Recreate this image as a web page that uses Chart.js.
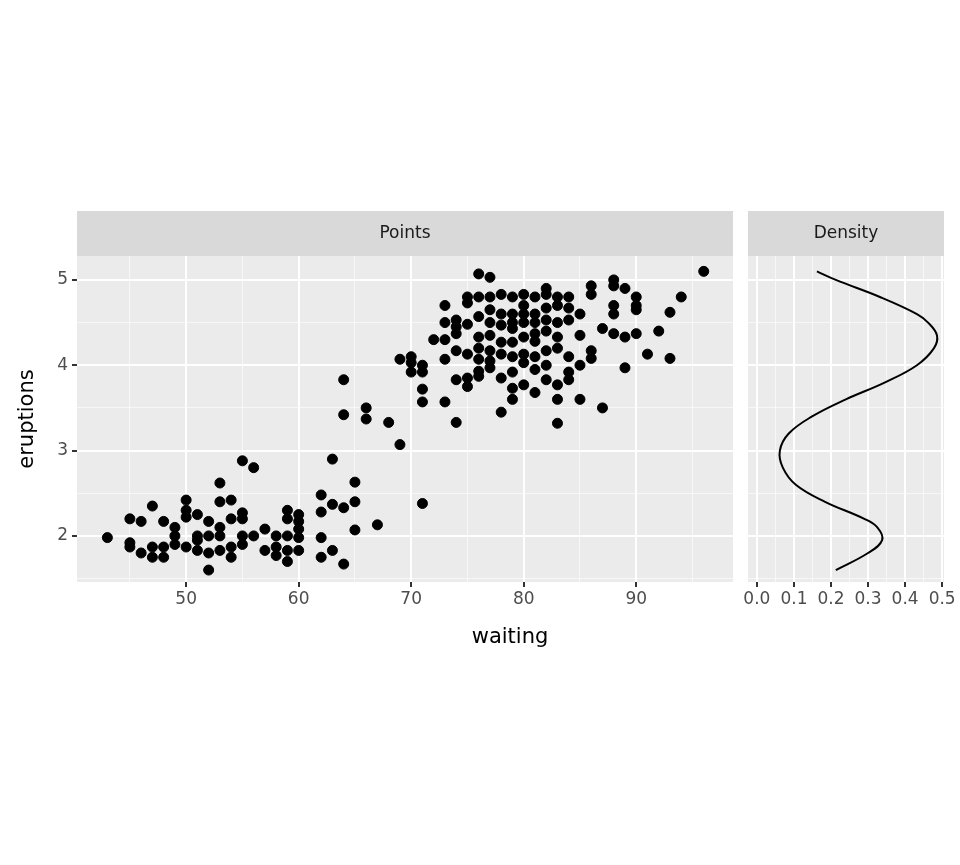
<!DOCTYPE html>
<html>
<head>
<meta charset="utf-8">
<script src="https://cdn.jsdelivr.net/npm/chart.js@4"></script>
<style>
  body { margin: 0; background: #fff; }
  #wrap { position: relative; width: 960px; height: 865px; }
  canvas { position: absolute; left: 0; top: 0; }
</style>
</head>
<body>
<div id="wrap">
  <canvas id="points" width="960" height="865"></canvas>
  <canvas id="density" width="960" height="865"></canvas>
</div>
<script>
// faithful: waiting, eruptions
const waiting = [43,45,45,45,46,46,47,47,47,48,48,48,49,49,49,50,50,50,50,51,51,51,51,52,52,52,52,53,53,53,53,53,54,54,54,54,55,55,55,55,55,56,56,57,57,58,58,58,59,59,59,59,59,60,60,60,60,60,62,62,62,62,63,63,63,64,64,64,64,65,65,65,66,66,67,68,69,69,70,70,70,71,71,71,71,71,72,
  73,73,73,73,73,74,74,74,74,74,74,75,75,75,75,75,75,76,76,76,76,76,76,76,76,77,77,77,77,77,77,77,77,78,78,78,78,78,78,78,79,79,79,79,79,79,79,79,79,80,80,80,80,80,80,80,80,81,81,81,81,81,81,81,81,82,82,82,82,82,82,82,82,83,83,83,83,83,83,83,83,84,84,84,84,84,84,85,85,85,85,86,86,86,86,87,87,88,88,88,88,88,89,89,89,90,90,90,90,91,92,93,93,94,96];
const eruptions = [1.98,2.2,1.92,1.87,2.17,1.8,2.35,1.75,1.87,2.17,1.75,1.87,2.1,2.0,1.9,2.42,2.3,2.22,1.87,2.25,2.0,1.95,1.83,2.17,2.0,1.8,1.6,2.62,2.4,2.1,2.0,1.83,2.42,2.2,1.87,1.75,2.88,2.27,2.2,2.0,1.9,2.8,2.0,2.08,1.83,2.0,1.87,1.77,2.3,2.2,2.0,1.83,1.7,2.25,2.17,2.08,1.98,1.83,2.48,2.28,1.98,1.75,2.9,2.37,1.83,3.83,3.42,2.33,1.67,2.63,2.4,2.07,3.5,3.37,2.13,3.33,4.07,3.07,4.1,4.03,3.92,4.0,3.92,3.72,3.57,2.38,4.3,
  4.7,4.5,4.3,4.07,3.57,4.53,4.45,4.37,4.17,3.83,3.33,4.8,4.73,4.48,4.13,3.85,3.75,5.07,4.8,4.57,4.33,4.2,4.07,3.93,3.87,5.03,4.8,4.65,4.5,4.35,4.17,4.05,3.97,4.83,4.6,4.47,4.27,4.13,3.85,3.45,4.8,4.6,4.5,4.43,4.27,4.1,3.92,3.73,3.6,4.83,4.7,4.6,4.5,4.33,4.13,4.03,3.77,4.8,4.6,4.5,4.37,4.28,4.1,3.95,3.68,4.9,4.83,4.67,4.53,4.4,4.17,4.0,3.83,4.8,4.7,4.5,4.33,4.2,3.77,3.6,3.32,4.8,4.67,4.53,4.1,3.92,3.83,4.6,4.35,4.0,3.6,4.93,4.83,4.17,4.08,4.43,3.5,5.0,4.93,4.7,4.6,4.37,4.9,4.33,3.97,4.8,4.7,4.65,4.37,4.13,4.4,4.62,4.08,4.8,5.1];

// density curve of eruptions
const densY = [1.6,1.8,1.95,2.1,2.2,2.4,2.6,2.8,3.0,3.2,3.4,3.6,3.8,4.0,4.2,4.35,4.5,4.6,4.8,5.0,5.1];
const densX = [0.213,0.300,0.338,0.325,0.290,0.184,0.105,0.070,0.062,0.086,0.149,0.240,0.346,0.432,0.478,0.486,0.462,0.432,0.332,0.213,0.162];

const tickGray = '#4d4d4d';
const font = { family: 'DejaVu Sans', size: 17 };

const panelBg = {
  id: 'panelBg',
  beforeDraw(chart, args, opts) {
    const { ctx, chartArea: a } = chart;
    ctx.save();
    ctx.fillStyle = '#ebebeb';
    ctx.fillRect(a.left, a.top, a.right - a.left, a.bottom - a.top);
    ctx.fillStyle = '#d9d9d9';
    ctx.fillRect(a.left, a.top - 45, a.right - a.left, 45);
    ctx.fillStyle = '#1a1a1a';
    ctx.font = '17px "DejaVu Sans"';
    ctx.textAlign = 'center';
    ctx.textBaseline = 'middle';
    ctx.fillText(opts.label, (a.left + a.right) / 2, a.top - 22);
    ctx.restore();
  },
  afterDraw(chart, args, opts) {
    if (!opts.xTitle) return;
    const { ctx, chartArea: a } = chart;
    ctx.save();
    ctx.fillStyle = '#000';
    ctx.font = '21px "DejaVu Sans"';
    ctx.textAlign = 'center';
    ctx.textBaseline = 'middle';
    // x title spans both panels (77..944)
    ctx.fillText(opts.xTitle, 510, 638);
    ctx.translate(28, (a.top + a.bottom) / 2);
    ctx.rotate(-Math.PI / 2);
    ctx.fillText(opts.yTitle, 0, 0);
    ctx.restore();
  }
};

function gridOpts(isMajor) {
  return {
    color: c => isMajor(c.tick.value) ? '#ffffff' : 'rgba(255,255,255,0.6)',
    lineWidth: c => isMajor(c.tick.value) ? 2 : 1,
    tickColor: c => isMajor(c.tick.value) ? '#333333' : 'rgba(0,0,0,0)',
    tickLength: 5,
    drawOnChartArea: true
  };
}
const near = (v, s) => Math.abs(v / s - Math.round(v / s)) < 1e-6;

new Chart(document.getElementById('points'), {
  type: 'scatter',
  data: {
    datasets: [{
      data: waiting.map((w, i) => ({ x: w, y: eruptions[i] })),
      backgroundColor: '#000',
      borderColor: '#000',
      pointRadius: 5
    }]
  },
  options: {
    responsive: false,
    animation: false,
    layout: { padding: { left: 10, right: 227, top: 256, bottom: 210 } },
    plugins: { legend: { display: false }, tooltip: { enabled: false },
      panelBg: { label: 'Points', xTitle: 'waiting', yTitle: 'eruptions' } },
    scales: {
      x: {
        type: 'linear', min: 40.3, max: 98.6,
        afterBuildTicks: s => { s.ticks = []; for (let v = 45; v <= 95; v += 5) s.ticks.push({ value: v }); },
        afterFit: s => { s.height = 73; },
        border: { display: false },
        grid: gridOpts(v => near(v, 10)),
        ticks: { color: tickGray, font, padding: 2, autoSkip: false, maxRotation: 0,
          callback: v => near(v, 10) ? v : '' }
      },
      y: {
        min: 1.46, max: 5.28,
        afterBuildTicks: s => { s.ticks = []; for (let v = 1.5; v <= 5.01; v += 0.5) s.ticks.push({ value: v }); },
        afterFit: s => { s.width = 67; },
        border: { display: false },
        grid: gridOpts(v => near(v, 1)),
        ticks: { color: tickGray, font, padding: 4, autoSkip: false,
          callback: v => near(v, 1) ? v : '' }
      }
    }
  },
  plugins: [panelBg]
});

new Chart(document.getElementById('density'), {
  type: 'scatter',
  data: {
    datasets: [{
      data: densX.map((d, i) => ({ x: d, y: densY[i] })),
      showLine: true,
      borderColor: '#000',
      borderWidth: 2,
      pointRadius: 0,
      tension: 0.4
    }]
  },
  options: {
    responsive: false,
    animation: false,
    layout: { padding: { left: 748, right: 16, top: 256, bottom: 210 } },
    plugins: { legend: { display: false }, tooltip: { enabled: false }, panelBg: { label: 'Density' } },
    scales: {
      x: {
        type: 'linear', min: -0.024, max: 0.505,
        afterBuildTicks: s => { s.ticks = []; for (let i = 0; i <= 10; i++) s.ticks.push({ value: i * 0.05 }); },
        afterFit: s => { s.height = 73; },
        border: { display: false },
        grid: gridOpts(v => near(v, 0.1)),
        ticks: { color: tickGray, font, padding: 2, autoSkip: false, maxRotation: 0,
          callback: v => near(v, 0.1) ? v.toFixed(1) : '' }
      },
      y: {
        min: 1.46, max: 5.28,
        afterBuildTicks: s => { s.ticks = []; for (let v = 1.5; v <= 5.01; v += 0.5) s.ticks.push({ value: v }); },
        afterFit: s => { s.width = 0; },
        border: { display: false },
        grid: { color: c => near(c.tick.value, 1) ? '#ffffff' : 'rgba(255,255,255,0.6)',
          lineWidth: c => near(c.tick.value, 1) ? 2 : 1, drawTicks: false },
        ticks: { display: false }
      }
    }
  },
  plugins: [panelBg]
});
</script>
</body>
</html>
